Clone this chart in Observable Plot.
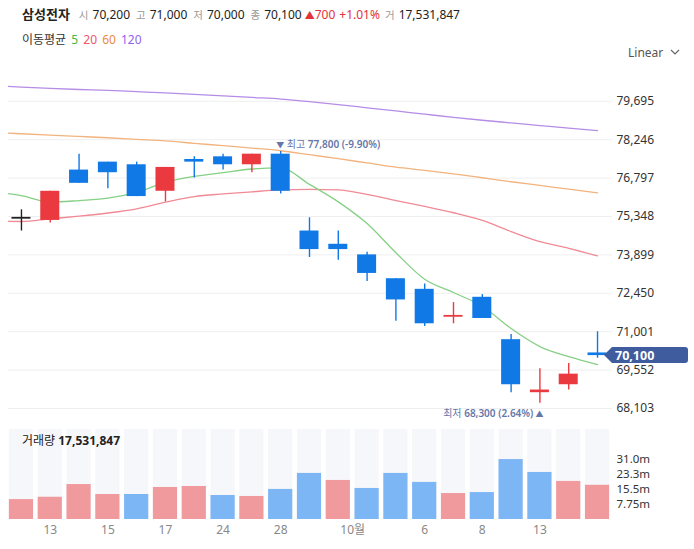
<!DOCTYPE html>
<html><head><meta charset="utf-8">
<script src="https://cdn.jsdelivr.net/npm/d3@7"></script>
<script src="https://cdn.jsdelivr.net/npm/@observablehq/plot@0.6"></script>
<style>
body{margin:0;width:694px;height:549px;position:relative;background:#fff;font-family:"Noto Sans","Noto Sans CJK KR",sans-serif;overflow:hidden;color:#222}
.abs{position:absolute;white-space:nowrap}
#h1{left:22px;top:5px;font-size:12px;line-height:18px}
#h1 .name{font-weight:bold;font-size:13px;margin-right:9px}
#h1 .lab{color:#999;margin-left:6px;margin-right:4px;font-size:10.5px}
#h1 .lab.first{margin-left:0}
#h1 .red{color:#e3323a}
#h2{left:22px;top:31px;font-size:12px;line-height:18px;color:#333}
#h2 span{margin-left:2px}
#lin{left:628px;top:44px;font-size:12px;line-height:18px;color:#555}
#vlab{left:22px;top:432px;font-size:12px;line-height:18px;color:#222}
svg.plot{position:absolute;left:0}
</style></head>
<body>
<div class="abs" id="h1"><span class="name">삼성전자</span><span class="lab first">시</span><span>70,200</span><span class="lab">고</span><span>71,000</span><span class="lab">저</span><span>70,000</span><span class="lab">종</span><span>70,100</span><span class="red" style="margin-left:3px"><span style="font-size:10px">▲</span>700</span><span class="red" style="margin-left:4px">+1.01%</span><span class="lab" style="margin-left:5px">거</span><span>17,531,847</span></div>
<div class="abs" id="h2">이동평균 <span style="color:#3fb53f">5</span> <span style="color:#f0566a">20</span> <span style="color:#f08a40">60</span> <span style="color:#8d5ff0">120</span></div>
<div class="abs" id="lin">Linear <svg width="10" height="8" style="margin-left:4px;vertical-align:1px"><polyline points="1,2 5,6 9,2" fill="none" stroke="#666" stroke-width="1.2"/></svg></div>
<div id="chart"></div>
<div class="abs" id="vlab">거래량 <b>17,531,847</b></div>
<script>
// ---- data (Samsung Electronics, daily, 2021-09-10 .. 2021-10-15) ----
const dates = ["9/10","9/13","9/14","9/15","9/16","9/17","9/23","9/24","9/27","9/28","9/29","9/30","10/1","10/5","10/6","10/7","10/8","10/12","10/13","10/14","10/15"];
const open  = [75300,75200,77100,77400,77300,76300,77500,77600,77300,77700,74800,74300,73900,73000,72600,71600,72300,70700,68700,69000,70200];
const high  = [75600,76300,77700,77400,77400,77200,77600,77700,77700,77800,75300,74800,74000,73000,72800,72100,72400,70900,69600,69800,71000];
const low   = [74800,75100,76600,76400,76100,75900,76800,77100,77000,76200,73800,73700,72900,71400,71200,71300,71500,68700,68300,68800,70000];
const close = [75300,76300,76600,77000,76100,77200,77400,77300,77700,76300,74100,74100,73200,72200,71300,71600,71500,69000,68800,69400,70100];
const prevClose0 = 75300;
const volume = [10200000,11400000,17900000,12800000,12800000,16400000,16900000,12300000,11800000,15400000,23600000,20000000,15900000,23600000,19000000,13300000,13800000,30700000,24100000,19500000,17531847];
// moving averages from the day before the first candle (index -1) to the last
const ma5   = [76280,76140,75890,75950,76040,76260,76640,76860,77000,77140,77180,76560,75900,75080,73980,72980,72480,71960,71120,70440,70060,69760];
const ma20  = [75180,75160,75260,75360,75480,75640,75890,76100,76200,76280,76350,76370,76350,76180,75950,75730,75490,75200,74780,74400,74150,73860];
const ma60  = [78520,78470,78420,78370,78320,78260,78200,78110,78020,77930,77830,77680,77530,77370,77210,77090,76960,76810,76660,76520,76380,76240];
const ma120 = [80290,80230,80180,80140,80110,80060,80010,79955,79900,79840,79780,79680,79570,79450,79330,79210,79090,78980,78880,78780,78680,78590];
const yTicks = [68103,69552,71001,72450,73899,75348,76797,78246,79695];
const volTicks = [7750000,15500000,23250000,31000000];
const volTickLabels = ["7.75m","15.5m","23.3m","31.0m"];
const xTickIdx = [1,3,5,7,9,11.5,14,16,18];
const xTickLabels = ["13","15","17","24","28","10월","6","8","13"];
const lastPrice = 70100;
const maxInfo = {i:9, v:77800, pct:"(-9.90%)"};
const minInfo = {i:18, v:68300, pct:"(2.64%)"};

// ---- derived tables ----
const font = '"Noto Sans","Noto Sans CJK KR",sans-serif';
const candles = open.map((o,i)=>({i,o,h:high[i],l:low[i],c:close[i],pc:i?close[i-1]:prevClose0}));
const dir = d => d.c>d.o?"up":d.c<d.o?"down":(d.c>d.pc?"up":d.c<d.pc?"down":"flat");
const cCol = {up:"#ea3a40", down:"#1079e6", flat:"#222"};
const maRows = (arr)=>arr.map((v,k)=>({i:k-1,v}));
const vols = volume.map((v,i)=>({i,v,up: close[i] >= (i?close[i-1]:prevClose0)}));
const volMax = 46100000;
const xDom = [-0.45, 20.52];
const half = 0.33, vhalf = 0.42;

const price = Plot.plot({
  width:694, height:360, marginLeft:8, marginRight:82, marginTop:0, marginBottom:0,
  x:{domain:xDom, axis:null},
  y:{domain:[67462,81046], axis:null},
  style:{fontFamily:font, fontSize:"12px", background:"transparent"},
  marks:[
    Plot.gridY(yTicks,{stroke:"#efefef", strokeOpacity:1}),
    Plot.axisY(yTicks,{anchor:"right", label:null, tickSize:0, tickPadding:4, tickFormat:d3.format(","), fontSize:12, fill:"#333"}),
    Plot.line(maRows(ma120),{x:"i", y:"v", stroke:"#b58ce6", strokeWidth:1.3, curve:"monotone-x", clip:true}),
    Plot.line(maRows(ma60),{x:"i", y:"v", stroke:"#f3b37e", strokeWidth:1.3, curve:"monotone-x", clip:true}),
    Plot.line(maRows(ma20),{x:"i", y:"v", stroke:"#f08a95", strokeWidth:1.3, curve:"monotone-x", clip:true}),
    Plot.line(maRows(ma5),{x:"i", y:"v", stroke:"#86d085", strokeWidth:1.3, curve:"monotone-x", clip:true}),
    Plot.ruleX(candles,{x:"i", y1:"l", y2:"h", stroke:d=>cCol[dir(d)], strokeWidth:1.4}),
    Plot.rect(candles.filter(d=>d.o!==d.c),{x1:d=>d.i-half, x2:d=>d.i+half, y1:"o", y2:"c", fill:d=>cCol[dir(d)]}),
    Plot.ruleY(candles.filter(d=>d.o===d.c),{y:"c", x1:d=>d.i-half, x2:d=>d.i+half, stroke:d=>cCol[dir(d)], strokeWidth:1.8})
  ]
});
price.classList.add("plot");
price.style.top = "65px";

const xs = price.scale("x"), ys = price.scale("y");
const sv = d3.select(price);
// last price tag
{
  const yc = ys.apply(lastPrice), tip = xs.apply(20)+7, r = 688, h = 8;
  sv.append("path").attr("d",`M${tip},${yc} L${tip+8},${yc-h} L${r-3},${yc-h} Q${r},${yc-h} ${r},${yc-h+3} L${r},${yc+h-3} Q${r},${yc+h} ${r-3},${yc+h} L${tip+8},${yc+h} Z`).attr("fill","#3f5c9e");
  sv.append("text").attr("x",615).attr("y",yc).attr("dy","0.36em").attr("text-anchor","start").attr("fill","#fff").attr("font-weight","bold").attr("font-size",12.5).attr("font-family",font).text(d3.format(",")(lastPrice));
}
// high / low annotations
{
  const t = sv.append("text").attr("x",xs.apply(maxInfo.i)-4).attr("y",ys.apply(maxInfo.v)-3).attr("text-anchor","start").attr("fill","#6577a8").attr("font-size",10).attr("font-family",font);
  t.append("tspan").attr("font-size",8).text("▼");
  t.append("tspan").text(" 최고 ");
  t.append("tspan").attr("font-weight",600).text(d3.format(",")(maxInfo.v)+" "+maxInfo.pct);
  const b = sv.append("text").attr("x",xs.apply(minInfo.i)+4).attr("y",ys.apply(minInfo.v)+14).attr("text-anchor","end").attr("fill","#6577a8").attr("font-size",10).attr("font-family",font);
  b.append("tspan").text("최저 ");
  b.append("tspan").attr("font-weight",600).text(d3.format(",")(minInfo.v)+" "+minInfo.pct);
  b.append("tspan").attr("font-size",8).text(" ▲");
}

const volLab = new Map(volTicks.map((t,k)=>[t,volTickLabels[k]]));
const xLab = new Map(xTickIdx.map((t,k)=>[t,xTickLabels[k]]));
const vol = Plot.plot({
  width:694, height:124, marginLeft:8, marginRight:82, marginTop:4, marginBottom:30,
  x:{domain:xDom, axis:null},
  y:{domain:[0,volMax], axis:null},
  style:{fontFamily:font, fontSize:"12px", background:"transparent"},
  marks:[
    Plot.rect(vols,{x1:d=>d.i-vhalf, x2:d=>d.i+vhalf, y1:0, y2:volMax, fill:"#f6f7fa"}),
    Plot.rect(vols,{x1:d=>d.i-vhalf, x2:d=>d.i+vhalf, y1:0, y2:"v", fill:d=>d.up?"#f09a9d":"#7db6f4"}),
    Plot.axisY(volTicks,{anchor:"right", label:null, tickSize:0, tickPadding:4, tickFormat:d=>volLab.get(d), fontSize:11.5, fill:"#333"}),
    Plot.axisX(xTickIdx,{anchor:"bottom", label:null, tickSize:0, tickPadding:6, tickFormat:d=>xLab.get(d), fontSize:12, fill:"#888"})
  ]
});
vol.classList.add("plot");
vol.style.top = "425px";
document.getElementById("chart").append(price, vol);
</script>
</body></html>
